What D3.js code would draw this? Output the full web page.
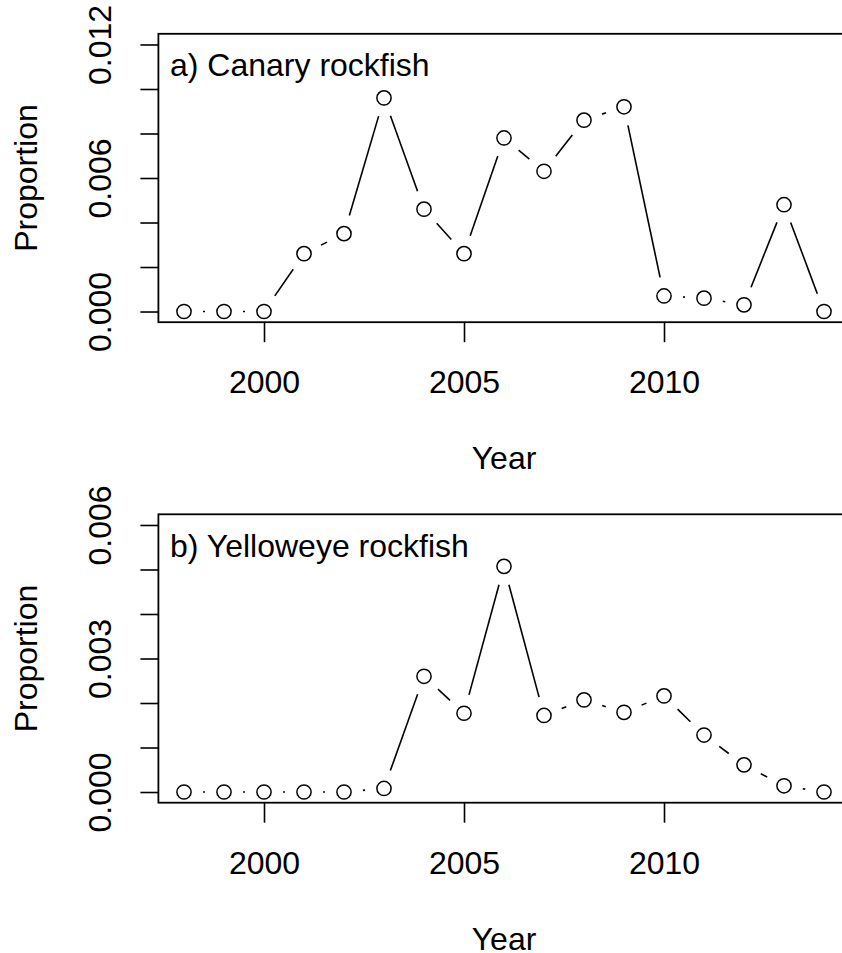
<!DOCTYPE html>
<html>
<head>
<meta charset="utf-8">
<script src="https://cdn.jsdelivr.net/npm/d3@7"></script>
<style>
  html, body { margin: 0; padding: 0; background: #fff; }
  svg { display: block; }
  text { font-family: "Liberation Sans", Arial, Helvetica, sans-serif; fill: #000; }
</style>
</head>
<body>
<svg id="chart" width="842" height="953"></svg>
<script>
// ---- Data ----
const years = [1998, 1999, 2000, 2001, 2002, 2003, 2004, 2005, 2006, 2007, 2008, 2009, 2010, 2011, 2012, 2013, 2014];
const canary = [0, 0, 0, 0.0026, 0.0035, 0.0096, 0.0046, 0.0026, 0.0078, 0.0063, 0.0086, 0.0092, 0.0007, 0.0006, 0.0003, 0.0048, 0];
const yelloweye = [0, 0, 0, 0, 0, 0.00008, 0.0026, 0.00177, 0.00507, 0.00172, 0.00207, 0.00179, 0.00216, 0.00128, 0.00061, 0.00014, 0];
const xTicks = [2000, 2005, 2010];
const canaryTicks = [0, 0.002, 0.004, 0.006, 0.008, 0.010, 0.012];
const canaryLabels = [0, 0.006, 0.012];
const yelloweyeTicks = [0, 0.001, 0.002, 0.003, 0.004, 0.005, 0.006];
const yelloweyeLabels = [0, 0.003, 0.006];
const titles = ["a) Canary rockfish", "b) Yelloweye rockfish"];
const xTitle = "Year";
const yTitle = "Proportion";

const svg = d3.select("#chart");
const FS = 32;

const panels = [
  { title: titles[0], values: canary, ticks: canaryTicks, labels: canaryLabels, ymax: 0.012, top: 33.8 },
  { title: titles[1], values: yelloweye, ticks: yelloweyeTicks, labels: yelloweyeLabels, ymax: 0.006, top: 514.3 }
];

const left = 158.4, right = 849.6, plotH = 288.4;
const xPad = (years[years.length - 1] - years[0]) * 0.04;
const x = d3.scaleLinear()
  .domain([years[0] - xPad, years[years.length - 1] + xPad])
  .range([left, right]);

panels.forEach(p => {
  const top = p.top, bottom = top + plotH;
  const yPad = p.ymax * 0.04;
  const y = d3.scaleLinear().domain([-yPad, p.ymax + yPad]).range([bottom, top]);
  const g = svg.append("g");

  // y axis
  const yAxis = d3.axisLeft(y)
    .tickValues(p.ticks)
    .tickSize(18)
    .tickFormat(d => p.labels.some(l => Math.abs(l - d) < 1e-9) ? d3.format(".3f")(d) : "");
  const ya = g.append("g").attr("transform", `translate(${left},0)`).call(yAxis);
  ya.select(".domain").remove();
  ya.selectAll(".tick line").attr("stroke", "#000").attr("stroke-width", 1.6);
  ya.selectAll(".tick text")
    .attr("x", null).attr("dy", null)
    .attr("transform", "translate(-47,0) rotate(-90)")
    .attr("text-anchor", "middle")
    .style("font-size", FS + "px")
    .style("font-family", '"Liberation Sans", Arial, sans-serif')
    .attr("fill", "#000");

  // x axis
  const xAxis = d3.axisBottom(x).tickValues(xTicks).tickSize(20).tickFormat(d3.format("d"));
  const xa = g.append("g").attr("transform", `translate(0,${bottom})`).call(xAxis);
  xa.select(".domain").remove();
  xa.selectAll(".tick line").attr("stroke", "#000").attr("stroke-width", 1.6);
  xa.selectAll(".tick text")
    .attr("y", 71).attr("dy", null)
    .style("font-size", FS + "px")
    .style("font-family", '"Liberation Sans", Arial, sans-serif')
    .attr("fill", "#000");

  // box
  g.append("rect")
    .attr("x", left).attr("y", top)
    .attr("width", right - left).attr("height", plotH)
    .attr("fill", "none").attr("stroke", "#000").attr("stroke-width", 1.8);

  // title in panel
  g.append("text")
    .attr("x", 170).attr("y", top + 42.5)
    .style("font-size", FS + "px")
    .text(p.title);

  // axis titles
  g.append("text")
    .attr("transform", `translate(36.7,${(top + bottom) / 2}) rotate(-90)`)
    .attr("text-anchor", "middle")
    .style("font-size", FS + "px")
    .text(yTitle);
  g.append("text")
    .attr("x", (left + right) / 2).attr("y", bottom + 147)
    .attr("text-anchor", "middle")
    .style("font-size", FS + "px")
    .text(xTitle);

  // type="b" line segments with gaps around points
  const gap = 19;
  const pts = years.map((yr, i) => [x(yr), y(p.values[i])]);
  for (let i = 0; i < pts.length - 1; i++) {
    const [x0, y0] = pts[i], [x1, y1] = pts[i + 1];
    const dx = x1 - x0, dy = y1 - y0, len = Math.hypot(dx, dy);
    if (len <= 2 * gap) continue;
    const ux = dx / len, uy = dy / len;
    g.append("line")
      .attr("x1", x0 + ux * gap).attr("y1", y0 + uy * gap)
      .attr("x2", x1 - ux * gap).attr("y2", y1 - uy * gap)
      .attr("stroke", "#000").attr("stroke-width", 1.6);
  }

  // points
  g.selectAll("circle.pt")
    .data(years.map((yr, i) => ({ yr, v: p.values[i] })))
    .enter().append("circle")
    .attr("class", "pt")
    .attr("cx", d => x(d.yr)).attr("cy", d => y(d.v))
    .attr("r", 7.1)
    .attr("fill", "none").attr("stroke", "#000").attr("stroke-width", 1.5);
});
</script>
</body>
</html>
